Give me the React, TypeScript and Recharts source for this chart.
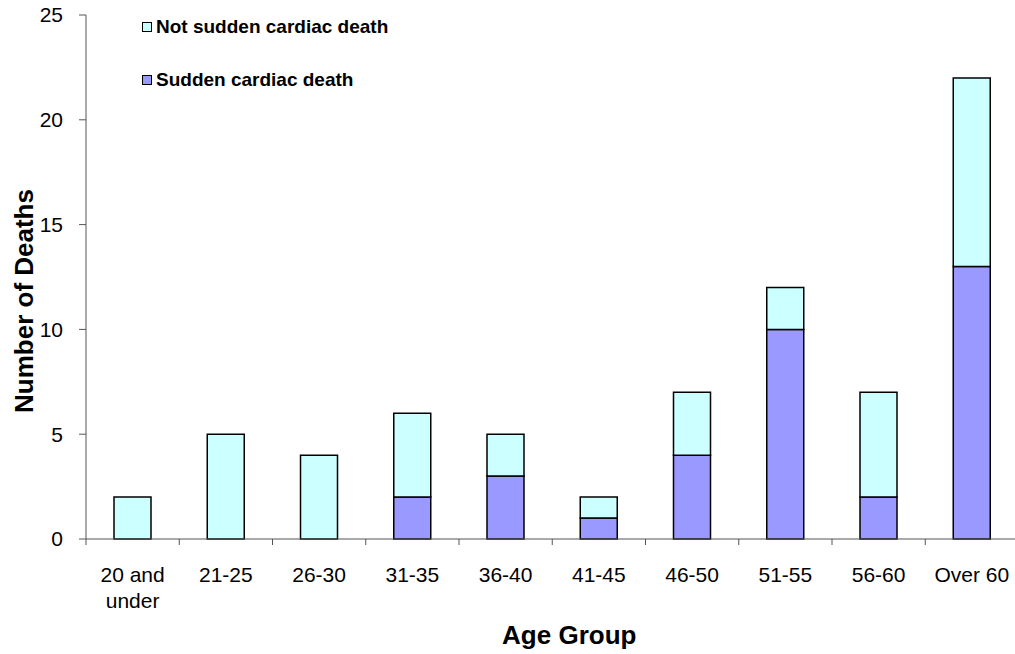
import { BarChart, Bar, XAxis, YAxis, Legend } from 'recharts'

const ageGroups = ['20 and under', '21-25', '26-30', '31-35', '36-40', '41-45', '46-50', '51-55', '56-60', 'Over 60']
const suddenDeaths = [0, 0, 0, 2, 3, 1, 4, 10, 2, 13]
const notSuddenDeaths = [2, 5, 4, 4, 2, 1, 3, 2, 5, 9]
const yTicks = [0, 5, 10, 15, 20, 25]

const FONT = '"Liberation Sans", Arial, sans-serif'
const AXIS_COLOR = '#555'
const CHART_W = 1020
const PLOT_LEFT = 86
const PLOT_RIGHT_MARGIN = 1.5

const series = [
  { key: 'notSudden', name: 'Not sudden cardiac death', color: '#CCFFFF' },
  { key: 'sudden', name: 'Sudden cardiac death', color: '#9999FF' },
]

const data = ageGroups.map((group, i) => ({
  group,
  sudden: suddenDeaths[i],
  notSudden: notSuddenDeaths[i],
}))

// wrap long labels onto two lines like the original
function splitLabel(label: string) {
  if (label.length <= 8) return [label]
  const cut = label.lastIndexOf(' ')
  return [label.slice(0, cut), label.slice(cut + 1)]
}

function AgeTick({ x, y, payload, index }: any) {
  const lines = splitLabel(payload.value)
  // tick marks go on the band edges, not on the centres
  const half = payload.offset || (CHART_W - PLOT_LEFT - PLOT_RIGHT_MARGIN) / ageGroups.length / 2
  const last = index === ageGroups.length - 1
  return (
    <g>
      <line x1={x - half} x2={x - half} y1={y} y2={y + 6} stroke={AXIS_COLOR} />
      {last && <line x1={x + half} x2={x + half} y1={y} y2={y + 6} stroke={AXIS_COLOR} />}
      <text x={x} y={y + 43} textAnchor="middle" fontFamily={FONT} fontSize={21} fill="#000">
        {lines.map((line, i) => (
          <tspan key={i} x={x} dy={i === 0 ? 0 : 25.5}>
            {line}
          </tspan>
        ))}
      </text>
    </g>
  )
}

function YTitle({ viewBox }: any) {
  const cx = viewBox.x + 33
  const cy = viewBox.y + viewBox.height / 2 + 24
  return (
    <text
      x={cx}
      y={cy}
      transform={`rotate(-90 ${cx} ${cy})`}
      textAnchor="middle"
      fontFamily={FONT}
      fontWeight="bold"
      fontSize={26}
      fill="#000"
    >
      Number of Deaths
    </text>
  )
}

function XTitle({ viewBox }: any) {
  const cx = viewBox.x + viewBox.width / 2 + 17
  return (
    <text x={cx} y={viewBox.y + 105} textAnchor="middle" fontFamily={FONT} fontWeight="bold" fontSize={26} fill="#000">
      Age Group
    </text>
  )
}

function LegendBox() {
  return (
    <div style={{ fontFamily: FONT, fontWeight: 'bold', fontSize: 19, color: '#000' }}>
      {series.map((s, i) => (
        <div key={s.key} style={{ display: 'flex', alignItems: 'center', height: 20, marginTop: i === 0 ? 0 : 33 }}>
          <span
            style={{
              display: 'inline-block',
              width: 8,
              height: 8,
              border: '1px solid #000',
              background: s.color,
              marginRight: 4,
            }}
          />
          <span style={{ whiteSpace: 'nowrap' }}>{s.name}</span>
        </div>
      ))}
    </div>
  )
}

export default function App() {
  return (
    <div style={{ position: 'absolute', left: 0, top: 0, width: 1015, height: 654, overflow: 'hidden', background: '#fff' }}>
      <BarChart width={CHART_W} height={654} data={data} margin={{ top: 15, right: PLOT_RIGHT_MARGIN, left: 0, bottom: 0 }}>
        <XAxis
          dataKey="group"
          interval={0}
          tickLine={false}
          tickSize={0}
          tickMargin={0}
          axisLine={{ stroke: AXIS_COLOR }}
          tick={<AgeTick />}
          height={115}
          label={{ content: <XTitle /> }}
        />
        <YAxis
          domain={[0, 25]}
          ticks={yTicks}
          interval={0}
          width={PLOT_LEFT}
          tickSize={7}
          tickMargin={16}
          axisLine={{ stroke: AXIS_COLOR }}
          tickLine={{ stroke: AXIS_COLOR }}
          tick={{ fill: '#000', fontSize: 21, fontFamily: FONT }}
          label={{ content: <YTitle /> }}
        />
        <Legend
          layout="vertical"
          align="center"
          verticalAlign="middle"
          content={<LegendBox />}
          wrapperStyle={{ left: 142, top: 17, width: 'auto', height: 'auto' }}
        />
        <Bar dataKey="sudden" name="Sudden cardiac death" stackId="a" fill="#9999FF" stroke="#000" strokeWidth={1.5} barSize={37} isAnimationActive={false} />
        <Bar dataKey="notSudden" name="Not sudden cardiac death" stackId="a" fill="#CCFFFF" stroke="#000" strokeWidth={1.5} barSize={37} isAnimationActive={false} />
      </BarChart>
    </div>
  )
}
